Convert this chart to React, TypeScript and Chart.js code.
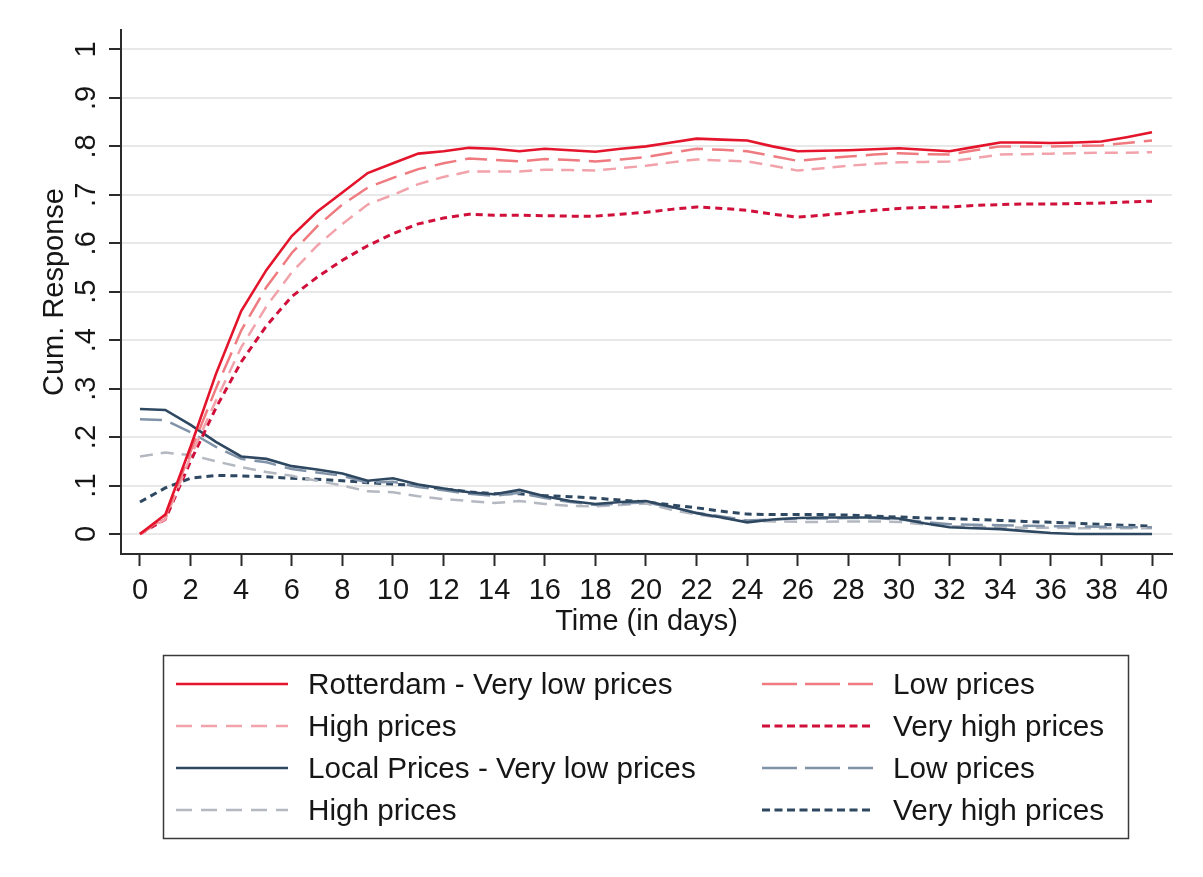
import React, { useEffect, useRef } from "react";
import { Chart, registerables } from "chart.js";

Chart.register(...registerables);

// Days since the start of the experiment
const days = [
  0, 1, 2, 3, 4, 5, 6, 7, 8, 9, 10, 11, 12, 13, 14, 15, 16, 17, 18, 19, 20,
  21, 22, 23, 24, 25, 26, 27, 28, 29, 30, 31, 32, 33, 34, 35, 36, 37, 38, 39, 40,
];

// Rotterdam price frame
const rotterdamVeryLow = [
  0, 0.04, 0.18, 0.33, 0.46, 0.545, 0.615, 0.665, 0.705, 0.745, 0.765, 0.785,
  0.79, 0.797, 0.795, 0.79, 0.795, 0.792, 0.789, 0.795, 0.8, 0.808, 0.816,
  0.814, 0.812, 0.8, 0.79, 0.791, 0.792, 0.794, 0.796, 0.793, 0.79, 0.799,
  0.808, 0.808, 0.807, 0.808, 0.81, 0.819, 0.829,
];
const rotterdamLow = [
  0, 0.035, 0.17, 0.3, 0.42, 0.51, 0.58, 0.635, 0.68, 0.715, 0.735, 0.753,
  0.765, 0.775, 0.772, 0.769, 0.774, 0.772, 0.769, 0.773, 0.778, 0.787, 0.795,
  0.793, 0.79, 0.78, 0.77, 0.775, 0.779, 0.783, 0.786, 0.784, 0.783, 0.792,
  0.8, 0.8, 0.8, 0.801, 0.802, 0.807, 0.812,
];
const rotterdamHigh = [
  0, 0.03, 0.16, 0.275, 0.385, 0.47, 0.54, 0.595, 0.64, 0.68, 0.7, 0.722,
  0.737, 0.748, 0.748, 0.748, 0.752, 0.751, 0.75, 0.755, 0.76, 0.767, 0.773,
  0.771, 0.769, 0.76, 0.75, 0.755, 0.76, 0.764, 0.767, 0.768, 0.769, 0.776,
  0.783, 0.784, 0.785, 0.786, 0.787, 0.787, 0.788,
];
const rotterdamVeryHigh = [
  0, 0.03, 0.15, 0.26, 0.355, 0.43, 0.49, 0.53, 0.565, 0.595, 0.62, 0.64,
  0.652, 0.66, 0.658, 0.658, 0.657, 0.656, 0.656, 0.66, 0.664, 0.67, 0.675,
  0.672, 0.668, 0.66, 0.654, 0.658, 0.663, 0.668, 0.672, 0.674, 0.675, 0.678,
  0.68, 0.681, 0.681, 0.682, 0.683, 0.685, 0.687,
];

// Local price frame
const localVeryLow = [
  0.258, 0.256, 0.225, 0.19, 0.16, 0.155, 0.14, 0.133, 0.125, 0.11, 0.115,
  0.102, 0.094, 0.086, 0.082, 0.091, 0.078, 0.068, 0.062, 0.066, 0.068, 0.056,
  0.043, 0.034, 0.024, 0.03, 0.033, 0.034, 0.034, 0.034, 0.032, 0.022, 0.014,
  0.012, 0.01, 0.006, 0.002, 0, 0, 0, 0,
];
const localLow = [
  0.237, 0.235, 0.21, 0.18, 0.155, 0.148, 0.134, 0.127, 0.12, 0.106, 0.108,
  0.097, 0.09, 0.083, 0.079, 0.085, 0.074, 0.066, 0.06, 0.063, 0.065, 0.055,
  0.044, 0.036, 0.028, 0.03, 0.032, 0.032, 0.033, 0.033, 0.03, 0.025, 0.02,
  0.019, 0.018, 0.017, 0.016, 0.016, 0.015, 0.014, 0.014,
];
const localHigh = [
  0.16, 0.168, 0.163, 0.15, 0.138, 0.128, 0.12, 0.11, 0.1, 0.088, 0.086,
  0.078, 0.072, 0.068, 0.064, 0.068, 0.062, 0.058, 0.057, 0.06, 0.063, 0.05,
  0.04, 0.033, 0.027, 0.026, 0.025, 0.025, 0.026, 0.026, 0.025, 0.02, 0.016,
  0.015, 0.014, 0.013, 0.013, 0.012, 0.012, 0.012, 0.012,
];
const localVeryHigh = [
  0.066, 0.095, 0.115, 0.121, 0.12, 0.118, 0.115, 0.113, 0.11, 0.106, 0.103,
  0.1, 0.093, 0.087, 0.083, 0.083, 0.079, 0.077, 0.074, 0.07, 0.066, 0.06,
  0.054, 0.047, 0.041, 0.04, 0.04, 0.04, 0.039, 0.037, 0.035, 0.033, 0.032,
  0.03, 0.028, 0.026, 0.024, 0.022, 0.02, 0.018, 0.016,
];

const seriesLabels = [
  "Rotterdam - Very low prices",
  "Low prices",
  "High prices",
  "Very high prices",
  "Local Prices - Very low prices",
  "Low prices",
  "High prices",
  "Very high prices",
];
const seriesValues = [
  rotterdamVeryLow,
  rotterdamLow,
  rotterdamHigh,
  rotterdamVeryHigh,
  localVeryLow,
  localLow,
  localHigh,
  localVeryHigh,
];

// Axis ticks
const xTickValues = [0, 2, 4, 6, 8, 10, 12, 14, 16, 18, 20, 22, 24, 26, 28, 30, 32, 34, 36, 38, 40];
const yTickValues = [0, 0.1, 0.2, 0.3, 0.4, 0.5, 0.6, 0.7, 0.8, 0.9, 1];
const yTickLabels = ["0", ".1", ".2", ".3", ".4", ".5", ".6", ".7", ".8", ".9", "1"];

// Line styles per series (plot dash pattern and legend sample dash pattern)
const lineStyles = [
  { color: "#e3142b", dash: [], legendDash: [], width: 2.6 },
  { color: "#ef7b80", dash: [22, 9], legendDash: [35, 8], width: 2.5 },
  { color: "#f2a2aa", dash: [13, 8], legendDash: [16, 9], width: 2.5 },
  { color: "#d0103a", dash: [7, 5], legendDash: [8, 4.5], width: 3 },
  { color: "#2e4861", dash: [], legendDash: [], width: 2.6 },
  { color: "#8093a8", dash: [22, 9], legendDash: [35, 8], width: 2.5 },
  { color: "#b4b8c1", dash: [13, 8], legendDash: [16, 9], width: 2.5 },
  { color: "#2e4861", dash: [7, 5], legendDash: [8, 4.5], width: 3 },
];

const FONT_FAMILY = "'Liberation Sans', Arial, sans-serif";
const TEXT_COLOR = "#161616";
const AXIS_COLOR = "#2b2b2b";

// Two-column boxed legend beneath the plot
const boxLegend = {
  id: "boxLegend",
  afterDraw(chart: any) {
    const ctx = chart.ctx as CanvasRenderingContext2D;
    ctx.save();
    ctx.strokeStyle = "#3a3a3a";
    ctx.lineWidth = 1.5;
    ctx.setLineDash([]);
    ctx.strokeRect(163.5, 655.5, 965, 183);
    ctx.font = `29.7px ${FONT_FAMILY}`;
    ctx.textBaseline = "middle";
    ctx.textAlign = "left";
    seriesLabels.forEach((label, i) => {
      const st = lineStyles[i];
      const col = i % 2;
      const row = Math.floor(i / 2);
      const y = 684 + row * 42;
      const x0 = col ? 762 : 176;
      const x1 = col ? 873 : 288;
      const tx = col ? 893 : 308;
      ctx.beginPath();
      ctx.setLineDash(st.legendDash);
      ctx.strokeStyle = st.color;
      ctx.lineWidth = st.width;
      ctx.moveTo(x0, y);
      ctx.lineTo(x1, y);
      ctx.stroke();
      ctx.setLineDash([]);
      ctx.fillStyle = TEXT_COLOR;
      ctx.fillText(label, tx, y + 2);
    });
    ctx.restore();
  },
};

export default function App() {
  const canvasRef = useRef<HTMLCanvasElement | null>(null);

  useEffect(() => {
    const canvas = canvasRef.current;
    if (!canvas) return;

    const datasets = seriesValues.map((vals, i) => ({
      label: seriesLabels[i],
      data: days.map((d, k) => ({ x: d, y: vals[k] })),
      borderColor: lineStyles[i].color,
      borderDash: lineStyles[i].dash,
      borderWidth: lineStyles[i].width,
      pointRadius: 0,
      fill: false,
      tension: 0,
    }));

    const tickFont = { family: FONT_FAMILY, size: 29 };

    const chart = new Chart(canvas, {
      type: "line",
      data: { datasets },
      options: {
        animation: false,
        responsive: false,
        events: [],
        layout: { padding: { left: 0, top: 30, right: 31, bottom: 232 } },
        plugins: {
          legend: { display: false },
          tooltip: { enabled: false },
        },
        scales: {
          x: {
            type: "linear",
            min: -0.75,
            max: 40.79,
            afterBuildTicks: (s: any) => {
              s.ticks = xTickValues.map((v) => ({ value: v }));
            },
            afterFit: (s: any) => {
              s.height = 91;
            },
            grid: {
              drawOnChartArea: false,
              drawTicks: true,
              tickLength: 12,
              tickColor: AXIS_COLOR,
              tickWidth: 2,
            },
            border: { display: true, color: AXIS_COLOR, width: 2 },
            ticks: {
              font: tickFont,
              color: TEXT_COLOR,
              padding: 8,
              maxRotation: 0,
              minRotation: 0,
              autoSkip: false,
              callback: (v: any) => String(v),
            },
            title: {
              display: true,
              text: "Time (in days)",
              font: tickFont,
              color: TEXT_COLOR,
              padding: { top: 0, bottom: 5.6 },
            },
          },
          y: {
            type: "linear",
            min: -0.0413,
            max: 1.0402,
            afterBuildTicks: (s: any) => {
              s.ticks = yTickValues.map((v) => ({ value: v }));
            },
            afterFit: (s: any) => {
              s.width = 121;
            },
            grid: {
              color: "#e8e8e8",
              lineWidth: 2,
              drawTicks: true,
              tickLength: 12,
              tickColor: AXIS_COLOR,
              tickWidth: 2,
            },
            border: { display: true, color: AXIS_COLOR, width: 2 },
            ticks: {
              font: tickFont,
              color: TEXT_COLOR,
              padding: 10,
              minRotation: 90,
              maxRotation: 90,
              crossAlign: "center",
              autoSkip: false,
              callback: (v: any) => {
                const idx = yTickValues.findIndex((t) => Math.abs(t - Number(v)) < 1e-6);
                return idx >= 0 ? yTickLabels[idx] : "";
              },
            },
            title: {
              display: true,
              text: "Cum. Response",
              font: tickFont,
              color: TEXT_COLOR,
              padding: { top: 37.6, bottom: 0 },
            },
          },
        },
      },
      plugins: [boxLegend],
    } as any);

    return () => chart.destroy();
  }, []);

  return (
    <div style={{ position: "fixed", left: 0, top: 0, width: 1203, height: 877, background: "#ffffff" }}>
      <canvas ref={canvasRef} width={1203} height={877} />
    </div>
  );
}
